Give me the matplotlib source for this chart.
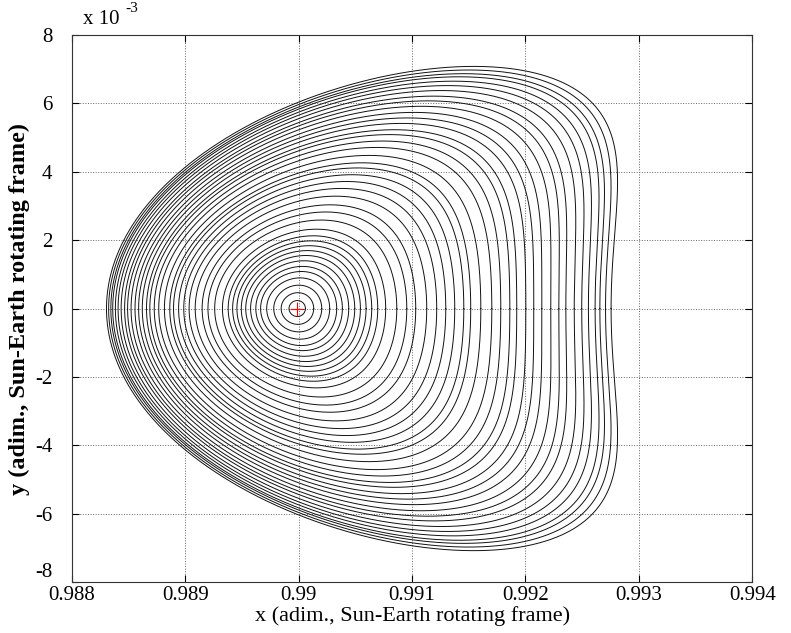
import numpy as np
import matplotlib.pyplot as plt

# Sun-Earth restricted three-body problem
MU = 3.040423e-6
X_L1 = 0.989986

# right-hand x-axis crossing of each orbit
x_right = [
    0.990059, 0.990132, 0.990203, 0.990273, 0.990335, 0.990385, 0.990441,
    0.990494, 0.990544, 0.990594, 0.990644, 0.990697, 0.990767, 0.990865,
    0.990953, 0.991032, 0.991129, 0.991217, 0.991297, 0.991376, 0.991456,
    0.991517, 0.991606, 0.991703, 0.991782, 0.991862, 0.991923, 0.992003,
    0.992073, 0.992144, 0.992223, 0.992294, 0.992356, 0.992430, 0.992496,
    0.992555, 0.992614, 0.992656, 0.992706, 0.992755,
]

x_ticks = [0.988, 0.989, 0.990, 0.991, 0.992, 0.993, 0.994]
x_tick_labels = ["0.988", "0.989", "0.99", "0.991", "0.992", "0.993", "0.994"]
y_ticks = [-8, -6, -4, -2, 0, 2, 4, 6, 8]


def deriv(s):
    x, y, vx, vy = s
    r1 = ((x + MU) ** 2 + y ** 2) ** 1.5
    r2 = ((x - 1 + MU) ** 2 + y ** 2) ** 1.5
    ax = 2 * vy + x - (1 - MU) * (x + MU) / r1 - MU * (x - 1 + MU) / r2
    ay = -2 * vx + y - (1 - MU) * y / r1 - MU * y / r2
    return np.array([vx, vy, ax, ay])


def propagate(x0, vy0, dt=0.002, t_max=2.2):
    s = np.array([x0, np.zeros_like(x0), np.zeros_like(x0), vy0])
    path = [s]
    for _ in range(int(t_max / dt)):
        k1 = deriv(s)
        k2 = deriv(s + dt / 2 * k1)
        k3 = deriv(s + dt / 2 * k2)
        k4 = deriv(s + dt * k3)
        s = s + dt / 6 * (k1 + 2 * k2 + 2 * k3 + k4)
        path.append(s)
    return np.array(path)


def half_crossing(path):
    y = path[:, 1, :]
    steps = np.arange(len(y) - 1)[:, None]
    idx = np.argmax((y[:-1] < 0) & (y[1:] >= 0) & (steps > 100), axis=0)
    cols = np.arange(y.shape[1])
    w = -y[idx, cols] / (y[idx + 1, cols] - y[idx, cols])
    end = path[idx, :, cols] * (1 - w)[:, None] + path[idx + 1, :, cols] * w[:, None]
    return idx, end


# linear Lyapunov guess, then continuation in amplitude with Newton steps
omega, kappa = 2.0865, 3.229
amp = np.array(x_right) - X_L1
vy0 = -kappa * omega * amp * 0.2
h = 1e-8
for frac in [0.2, 0.4, 0.6, 0.8, 1.0]:
    x0 = X_L1 + frac * amp
    if frac > 0.2:
        vy0 = vy0 * frac / (frac - 0.2)
    for _ in range(3):
        path = propagate(np.concatenate([x0, x0]), np.concatenate([vy0, vy0 + h]))
        _, end = half_crossing(path)
        f, fh = end[: len(x0), 2], end[len(x0):, 2]
        vy0 = vy0 - f * h / (fh - f)

path = propagate(np.array(x_right), vy0)
idx, end = half_crossing(path)

plt.rcParams["font.family"] = "Liberation Serif"
plt.rcParams["axes.unicode_minus"] = False
fig = plt.figure(figsize=(7.91, 6.33), dpi=100)
ax = fig.add_axes([0.091, 0.0806, 0.860, 0.8640])

for j in range(len(x_right)):
    xs = np.append(path[: idx[j] + 1, 0, j], end[j, 0])
    ys = np.append(path[: idx[j] + 1, 1, j], 0.0)
    xs = np.concatenate([xs, xs[::-1]])
    ys = np.concatenate([ys, -ys[::-1]]) * 1e3
    ax.plot(xs, ys, color="#111111", linewidth=0.7)

ax.plot([X_L1], [0], marker="+", color="red", markersize=10, markeredgewidth=0.8)

ax.set_xlim(0.988, 0.994)
ax.set_ylim(-8, 8)
ax.set_xticks(x_ticks)
ax.set_xticklabels(x_tick_labels)
ax.set_yticks(y_ticks)
ax.tick_params(direction="in", top=True, right=True, labelsize=15, length=5)
ax.tick_params(axis="y", pad=14)
ax.tick_params(axis="x", pad=3)
ax.yaxis.get_ticklabels()[0].set_va("bottom")
ax.grid(True, linestyle=":", color="#666666", linewidth=0.7)
for sp in ax.spines.values():
    sp.set_color("#333333")

ax.set_xlabel("x (adim., Sun-Earth rotating frame)", fontsize=16, labelpad=1)
ax.set_ylabel("y (adim., Sun-Earth rotating frame)", fontsize=17.5,
              fontweight="bold", labelpad=4)
ax.text(0.016, 1.012, "x 10", transform=ax.transAxes, fontsize=15,
        ha="left", va="bottom")
ax.text(0.078, 1.037, "-3", transform=ax.transAxes, fontsize=11,
        ha="left", va="bottom")

fig.savefig("out.png", dpi=100)
